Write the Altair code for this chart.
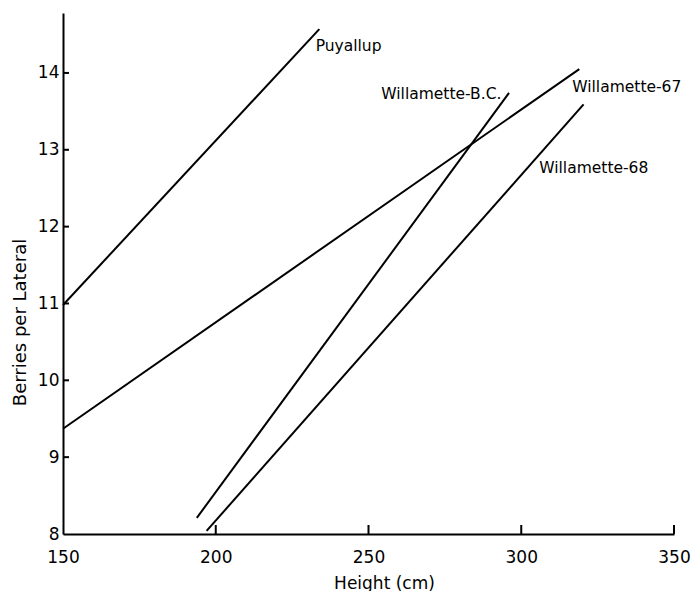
import altair as alt
import pandas as pd

# Regression lines (start/end points)
series = ["Puyallup", "Willamette-67", "Willamette-B.C.", "Willamette-68"]
x_start = [150.0, 150.0, 193.8, 197.0]
y_start = [10.98, 9.37, 8.21, 8.04]
x_end = [233.9, 319.0, 296.0, 320.4]
y_end = [14.57, 14.05, 13.74, 13.59]

# Line labels
label_text = ["Puyallup", "Willamette-B.C.", "Willamette-67", "Willamette-68"]
label_x = [232.7, 254.2, 316.7, 305.9]
label_y = [14.35, 13.73, 13.82, 12.76]

x_ticks = [150, 200, 250, 300, 350]
y_ticks = [8, 9, 10, 11, 12, 13, 14]
x_inner_ticks = [200, 250, 300, 350]
y_inner_ticks = [9, 10, 11, 12, 13, 14]

FONT = "DejaVu Sans"
W, H = 611, 521

rows = []
for s, xs, ys, xe, ye in zip(series, x_start, y_start, x_end, y_end):
    rows.append({"series": s, "h": xs, "b": ys, "o": 0})
    rows.append({"series": s, "h": xe, "b": ye, "o": 1})
lines_df = pd.DataFrame(rows)
labels_df = pd.DataFrame({"text": label_text, "h": label_x, "b": label_y})
xt_df = pd.DataFrame({"t": x_inner_ticks})
yt_df = pd.DataFrame({"t": y_inner_ticks})

xscale = alt.Scale(domain=[150, 350], nice=False, zero=False)
yscale = alt.Scale(domain=[8, 14.78], nice=False, zero=False)

xaxis = alt.Axis(
    values=x_ticks, format="d", title="Height (cm)", grid=False, ticks=False,
    labelFlush=False, labelOverlap=False,
    domainColor="black", domainWidth=2, labelFont=FONT, labelFontSize=17,
    labelColor="black", labelPadding=15, titleFont=FONT, titleFontSize=17,
    titleFontWeight="normal", titleColor="black", titleX=321, titleY=49,
    titleAlign="center", titleBaseline="middle",
)
yaxis = alt.Axis(
    values=y_ticks, format="d", title="Berries per Lateral", grid=False, ticks=False,
    labelFlush=False, labelOverlap=False,
    domainColor="black", domainWidth=2, labelFont=FONT, labelFontSize=17,
    labelColor="black", labelPadding=4, titleFont=FONT, titleFontSize=18,
    titleFontWeight="normal", titleColor="black", titleX=-43, titleY=309,
    titleAlign="center", titleBaseline="middle", titleAngle=270,
)

lines = alt.Chart(lines_df).mark_line(color="black", strokeWidth=2).encode(
    x=alt.X("h:Q", scale=xscale, axis=xaxis),
    y=alt.Y("b:Q", scale=yscale, axis=yaxis),
    detail="series:N",
    order="o:Q",
)

labels = alt.Chart(labels_df).mark_text(
    align="left", baseline="middle", font=FONT, fontSize=15.5, color="black"
).encode(
    x=alt.X("h:Q", scale=xscale),
    y=alt.Y("b:Q", scale=yscale),
    text="text:N",
)

xt = alt.Chart(xt_df).mark_rule(color="black", strokeWidth=2).encode(
    x=alt.X("t:Q", scale=xscale),
    y=alt.value(H),
    y2=alt.value(H - 9),
)
yt = alt.Chart(yt_df).mark_rule(color="black", strokeWidth=2).encode(
    y=alt.Y("t:Q", scale=yscale),
    x=alt.value(0),
    x2=alt.value(6),
)

chart = alt.layer(lines, labels, xt, yt).properties(
    width=W, height=H,
    autosize=alt.AutoSizeParams(type="none"),
    padding={"left": 63, "top": 13, "right": 23, "bottom": 57},
    background="white",
).configure_view(stroke=None)

chart.save("out.html", embed_options={"renderer": "svg", "actions": False})
